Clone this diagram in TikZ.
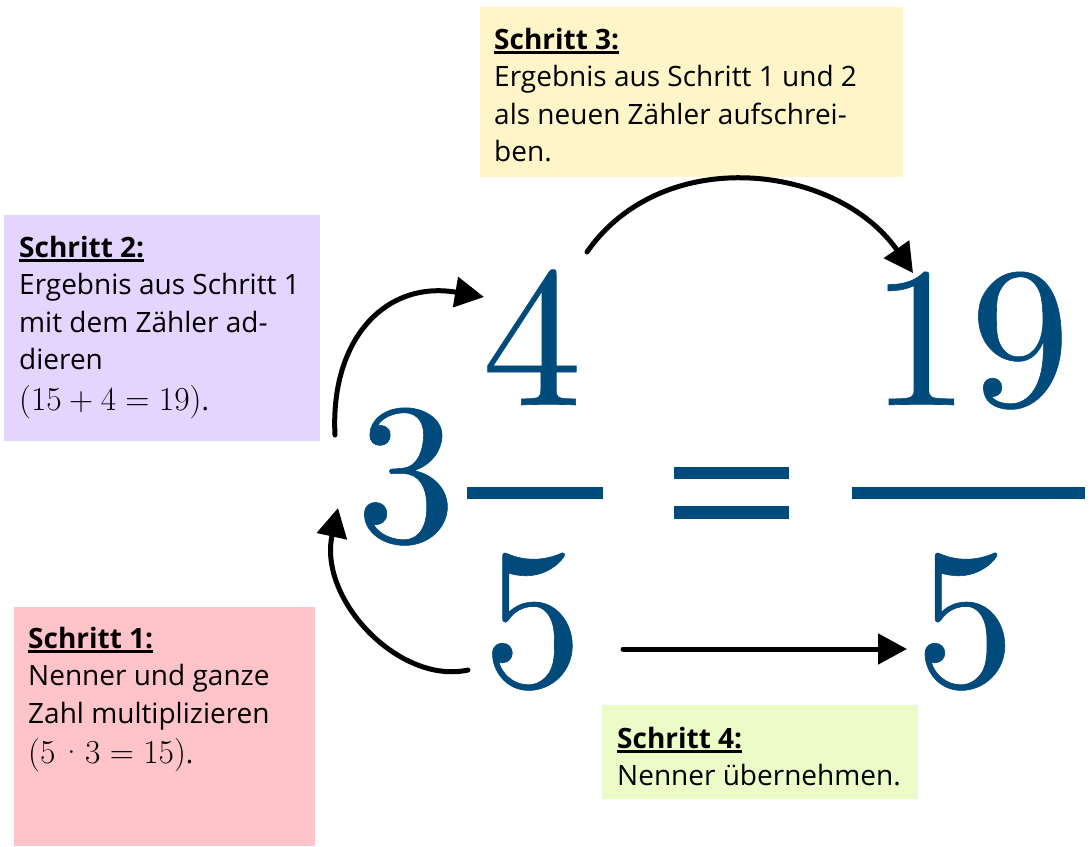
\documentclass[tikz,border=0pt]{standalone}
\usepackage{fontspec}
\newfontfamily\osans{Open Sans}
\newfontfamily\bignumf[FakeBold=0.3]{lmroman10-regular.otf}
\usetikzlibrary{arrows.meta}
\definecolor{cyel}{HTML}{FFF5C9}
\definecolor{cpur}{HTML}{E3D5FF}
\definecolor{cpink}{HTML}{FFC4CA}
\definecolor{cgrn}{HTML}{ECFCC8}
\definecolor{numblue}{HTML}{004A7C}
\newcommand\hdr[1]{\leavevmode\setbox0\hbox{\bfseries #1}\rlap{\rule[-4.6pt]{\wd0}{2.6pt}}\box0}
\newcommand\mth[1]{{\rmfamily\fontsize{33.5}{37}\selectfont #1}}
\newcommand\bop{\hspace{0.222em}}
\newcommand\rel{\hspace{0.278em}}
\newcommand\txtblock[2]{\parbox[t]{#1}{\osans\fontsize{28}{37.5}\selectfont\raggedright\leavevmode #2}}
\tikzset{
  stepbox/.style={rectangle, draw=none, inner sep=0pt, anchor=north west},
  steptext/.style={inner sep=0pt, anchor=base west, text=black},
  bignum/.style={font=\bignumf\fontsize{200}{200}\selectfont, text=numblue, inner sep=0pt, anchor=base},
  bar/.style={fill=numblue, draw=none},
  arr/.style={line width=5pt, line cap=round, -{Triangle[length=29pt,width=30pt]}}
}
\begin{document}
\begin{tikzpicture}[x=1pt,y=-1pt]
\useasboundingbox (0,0) rectangle (1091,846);
% boxes
\node[stepbox, fill=cyel, minimum width=423pt, minimum height=170pt] (b3) at (480,7) {};
\node[stepbox, fill=cpur, minimum width=316pt, minimum height=226pt] (b2) at (4,215) {};
\node[stepbox, fill=cpink, minimum width=301pt, minimum height=239pt] (b1) at (14,607) {};
\node[stepbox, fill=cgrn, minimum width=316pt, minimum height=94pt] (b4) at (602,705) {};
% texts
\node[steptext] (t3) at (494,49) {\txtblock{400pt}{\hdr{Schritt 3:}\\Ergebnis aus Schritt 1 und 2\\als neuen Zähler aufschrei-\\ben.}};
\node[steptext] (t2) at (19,257) {\txtblock{300pt}{\hdr{Schritt 2:}\\Ergebnis aus Schritt 1\\mit dem Zähler ad-\\dieren\\[3pt]\mth{(15\bop+\bop4\rel=\rel19)}.}};
\node[steptext] (t1) at (28,648) {\txtblock{285pt}{\hdr{Schritt 1:}\\Nenner und ganze\\Zahl multiplizieren\\[3pt]\mth{(5\hspace{0.12em}·\hspace{0.05em}3\rel=\rel15)}.}};
\node[steptext] (t4) at (617,748) {\txtblock{300pt}{\hdr{Schritt 4:}\\Nenner übernehmen.}};
% big numbers
\node[bignum] (n3) at (406,541) {3};
\node[bignum] (n4) at (532,405) {4};
\node[bignum] (n5a) at (532.5,686) {5};
\node[bignum] (n19) at (970,405) {19};
\node[bignum] (n5b) at (965,686) {5};
\fill[bar] (467,487) rectangle (603,499);
\fill[bar] (852,487) rectangle (1085,499);
\fill[bar] (674,467) rectangle (789,479);
\fill[bar] (674,506) rectangle (789,519);
% arrows
\coordinate (a1s) at (468,670);
\coordinate (a1e) at (338,508);
\coordinate (a2s) at (335,435);
\coordinate (a2e) at (484,297);
\coordinate (a3s) at (587,252);
\coordinate (a3e) at (913,273);
\coordinate (a4s) at (623,649);
\coordinate (a4e) at (907,649);
\draw[arr] (a1s) .. controls (400,685) and (318,600) .. (a1e);
\draw[arr] (a2s) .. controls (330,340) and (385,280) .. (a2e);
\draw[arr] (a3s) .. controls (663,143) and (837,164) .. (a3e);
\draw[arr] (a4s) -- (a4e);
\end{tikzpicture}
\end{document}
